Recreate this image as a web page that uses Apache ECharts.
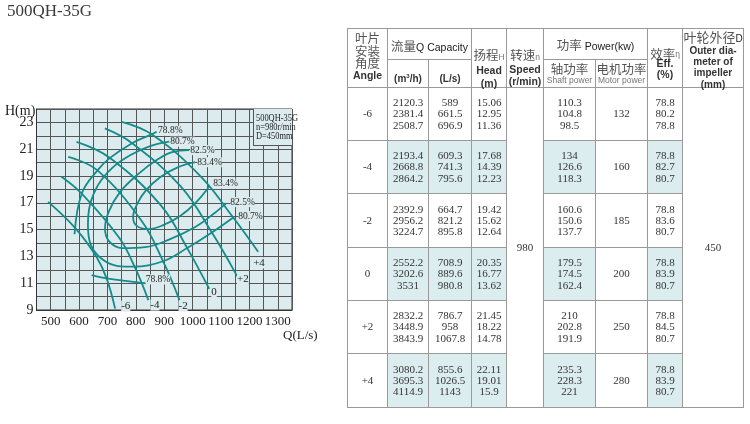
<!DOCTYPE html>
<html>
<head>
<meta charset="utf-8">
<script src="https://cdn.jsdelivr.net/npm/echarts/dist/echarts.min.js"></script>
<style>
html,body{margin:0;padding:0;background:#fff;}
#chart{position:absolute;left:0;top:0;width:750px;height:424px;}
#inset{position:absolute;left:253px;top:109px;width:39px;height:37px;background:#dcecee;border-left:1px solid #555;border-bottom:1px solid #555;box-sizing:border-box;overflow:visible;}
#inset div{position:absolute;left:2px;top:4px;font-family:'Liberation Serif','Times New Roman',serif;font-size:10.5px;line-height:9px;color:#222;white-space:nowrap;transform:scaleX(0.8);transform-origin:0 0;}
#tbl{position:absolute;left:347px;top:28px;}
#tbl table{border-collapse:collapse;table-layout:fixed;width:396px;border:1px solid #555;}
#tbl td{border:1px solid #9a9a9a;padding:0;text-align:center;vertical-align:middle;color:#333;overflow:visible;white-space:nowrap;}
#tbl td.sh{background:#dcedf0;}
#tbl td.hd{vertical-align:top;}
.hc{box-sizing:border-box;overflow:visible;}
.cn{font-family:'Noto Sans CJK SC',sans-serif;font-size:12.5px;color:#555;}
.en{font-family:'Liberation Sans',Arial,sans-serif;font-size:10.5px;color:#222;}
.enb{font-family:'Liberation Sans',Arial,sans-serif;font-size:10px;font-weight:bold;color:#333;}
.sm{font-family:'Liberation Sans',Arial,sans-serif;font-size:8.5px;color:#777;}
.d{font-family:'Liberation Serif','Times New Roman',serif;font-size:11px;line-height:11.3px;color:#333;}
</style>
</head>
<body>
<div id="chart"></div>
<div id="inset"><div>500QH-35G<br>n=980r/min<br>D=450mm</div></div>
<div id="tbl"></div>
<script>
// ---------- chart data ----------
const qTickLabels = [500, 600, 700, 800, 900, 1000, 1100, 1200, 1300];
const hTickLabels = [9, 11, 13, 15, 17, 19, 21, 23];

const bladeNames = ['-6', '-4', '-2', '0', '+2', '+4'];
const bladeM6 = [[491, 17.07], [589, 15.06], [661.5, 12.95], [696.9, 11.36], [727, 9.1]];
const bladeM4 = [[538, 18.94], [609.3, 17.68], [741.3, 14.39], [795.6, 12.23], [844, 9.74]];
const bladeM2 = [[561.6, 20.43], [664.7, 19.42], [821.2, 15.62], [895.8, 12.64], [953.7, 9.74]];
const blade0  = [[591, 21.55], [708.9, 20.35], [889.6, 16.77], [980.8, 13.62], [1058.6, 10.57]];
const bladeP2 = [[691, 22.55], [786.7, 21.45], [958, 18.22], [1067.8, 14.78], [1156.5, 11.53]];
const bladeP4 = [[750, 23.04], [855.6, 22.11], [1026.5, 19.01], [1143, 15.9], [1230.7, 13.34]];

const eff788Upper = [[584, 14.65], [609.3, 17.68], [664.7, 19.42], [708.9, 20.35], [786.7, 21.45], [855.6, 22.11], [873, 22.3]];
const eff788Lower = [[644, 11.6], [696.9, 11.36], [770, 11.15], [838, 10.98]];
const eff807 = [[917.5, 21.56], [850.4, 21.23], [779.6, 20.55], [716, 19.59], [666.5, 18.32], [638.3, 16.83], [631.2, 15.33], [641.8, 13.84], [680.7, 12.8], [737.2, 12.28], [795.6, 12.23], [895.8, 12.64], [980.8, 13.62], [1067.8, 14.78], [1143, 15.9]];
const eff825 = [[988, 20.93], [928, 20.78], [878.5, 20.26], [807.8, 19.14], [744.2, 17.8], [705.4, 16.38], [691.3, 15.11], [705.4, 14.14], [751.3, 13.62], [832.5, 13.69], [920.9, 14.29], [1009.2, 15.19], [1072.8, 16.16], [1118.7, 16.98]];
const eff834 = [[1009.2, 20.03], [949.1, 19.66], [885.5, 18.91], [836.1, 17.94], [804.3, 16.9], [790.2, 15.93], [804.3, 15.26], [843.2, 15.04], [896.2, 15.33], [956.2, 16.01], [1012.7, 17.05], [1058.6, 18.24]];

// ---------- table data ----------
const tableAngles = ['-6', '-4', '-2', '0', '+2', '+4'];
const tableFlowM3h = [['2120.3', '2381.4', '2508.7'], ['2193.4', '2668.8', '2864.2'], ['2392.9', '2956.2', '3224.7'], ['2552.2', '3202.6', '3531'], ['2832.2', '3448.9', '3843.9'], ['3080.2', '3695.3', '4114.9']];
const tableFlowLs = [['589', '661.5', '696.9'], ['609.3', '741.3', '795.6'], ['664.7', '821.2', '895.8'], ['708.9', '889.6', '980.8'], ['786.7', '958', '1067.8'], ['855.6', '1026.5', '1143']];
const tableHead = [['15.06', '12.95', '11.36'], ['17.68', '14.39', '12.23'], ['19.42', '15.62', '12.64'], ['20.35', '16.77', '13.62'], ['21.45', '18.22', '14.78'], ['22.11', '19.01', '15.9']];
const tableShaft = [['110.3', '104.8', '98.5'], ['134', '126.6', '118.3'], ['160.6', '150.6', '137.7'], ['179.5', '174.5', '162.4'], ['210', '202.8', '191.9'], ['235.3', '228.3', '221']];
const tableMotor = ['132', '160', '185', '200', '250', '280'];
const tableEff = [['78.8', '80.2', '78.8'], ['78.8', '82.7', '80.7'], ['78.8', '83.6', '80.7'], ['78.8', '83.9', '80.7'], ['78.8', '84.5', '80.7'], ['78.8', '83.9', '80.7']];
const tableSpeed = '980';
const tableDiameter = '450';

// ---------- styles ----------
const SERIF = "'Liberation Serif','Times New Roman',serif";
const CURVE = '#168a8a';
const BG = '#dcecee';
const bladeCurves = [bladeM6, bladeM4, bladeM2, blade0, bladeP2, bladeP4];
const bladeLabelOffset = [[6, -2.5], [2, 5], [-1, 6], [2, 3], [0, 3], [-5, 11]];

function lbl(text, off, size) {
  return {
    show: true, formatter: text, position: off, align: 'left', verticalAlign: 'middle',
    color: '#222', fontFamily: SERIF, fontSize: size, backgroundColor: BG, padding: [0, 0, 0, 0]
  };
}
function curve(name, pts, startLabel, endLabel) {
  return {
    type: 'line', name: name, silent: true, smooth: 0.4,
    showSymbol: true, symbol: 'circle', symbolSize: 0,
    lineStyle: { color: CURVE, width: 1.8 }, itemStyle: { color: CURVE },
    label: { show: false },
    data: pts.map(function (p, i) {
      let l = null;
      if (i === 0 && startLabel) l = startLabel;
      if (i === pts.length - 1 && endLabel) l = endLabel;
      return l ? { value: p, label: l } : { value: p };
    })
  };
}

const series = [];
bladeCurves.forEach(function (c, i) {
  series.push(curve(bladeNames[i], c, null, lbl(bladeNames[i], bladeLabelOffset[i], 11)));
});
series.push(curve('78.8%', eff788Upper, null, lbl('78.8%', [1.5, -1], 9.5)));
series.push(curve('78.8% low', eff788Lower, null, lbl('78.8%', [-1, -4], 9.5)));
series.push(curve('80.7%', eff807, lbl('80.7%', [1, 0], 9.5), lbl('80.7%', [5, -1.5], 9.5)));
series.push(curve('82.5%', eff825, lbl('82.5%', [1, 0], 9.5), lbl('82.5%', [4, -1], 9.5)));
series.push(curve('83.4%', eff834, lbl('83.4%', [2, 0], 9.5), lbl('83.4%', [4, -2.5], 9.5)));

const chart = echarts.init(document.getElementById('chart'), null, { renderer: 'canvas' });
chart.setOption({
  animation: false,
  backgroundColor: '#fff',
  title: [
    { text: '500QH-35G', left: 7, top: 3, padding: 0, textStyle: { fontFamily: SERIF, fontSize: 17, fontWeight: 'normal', color: '#3a3a3a' } },
    { text: 'H(m)', left: 5, top: 104, padding: 0, textStyle: { fontFamily: SERIF, fontSize: 14, fontWeight: 'normal', color: '#222' } },
    { text: 'Q(L/s)', left: 283, top: 329, padding: 0, textStyle: { fontFamily: SERIF, fontSize: 13, fontWeight: 'normal', color: '#222' } }
  ],
  grid: { left: 36.5, right: 458, top: 109, bottom: 114, show: true, backgroundColor: BG, borderColor: '#333', borderWidth: 1 },
  xAxis: {
    type: 'value', min: 450, max: 1350, interval: 50,
    axisLine: { show: true, lineStyle: { color: '#333', width: 1 } },
    axisTick: { show: false },
    splitLine: { show: true, lineStyle: { color: '#555', width: 1 } },
    axisLabel: {
      margin: 5, fontFamily: SERIF, fontSize: 13, color: '#222',
      formatter: function (v) { return qTickLabels.indexOf(v) >= 0 ? String(v) : ''; }
    }
  },
  yAxis: {
    type: 'value', min: 9, max: 24, interval: 1,
    axisLine: { show: true, lineStyle: { color: '#333', width: 1 } },
    axisTick: { show: false },
    splitLine: { show: true, lineStyle: { color: '#555', width: 1 } },
    axisLabel: {
      margin: 3, fontFamily: SERIF, fontSize: 14, color: '#222',
      formatter: function (v) { return hTickLabels.indexOf(v) >= 0 ? String(v) : ''; }
    }
  },
  series: series
});

// ---------- table ----------
function lines(a) { return a.join('<br>'); }
function hc(h, pt, inner) { return '<div class="hc" style="height:' + h + 'px;padding-top:' + pt + 'px">' + inner + '</div>'; }
let h = '<table><colgroup>';
[40, 41, 43, 35, 37, 52, 52, 35, 61].forEach(function (w) { h += '<col style="width:' + w + 'px">'; });
h += '</colgroup>';
h += '<tr>' +
  '<td rowspan="2" class="hd">' + hc(58, 3, '<div class="cn" style="line-height:12.5px">叶片<br>安装<br>角度</div><div class="enb" style="line-height:10px;font-size:10.5px">Angle</div>') + '</td>' +
  '<td colspan="2" class="hd">' + hc(30, 7, '<span class="cn">流量</span><span class="en">Q Capacity</span>') + '</td>' +
  '<td rowspan="2" class="hd">' + hc(58, 19, '<div style="line-height:13px"><span class="cn">扬程</span><span class="sm">H</span></div><div class="enb" style="line-height:12.5px;font-size:10.5px">Head<br>(m)</div>') + '</td>' +
  '<td rowspan="2" class="hd">' + hc(58, 19, '<div style="line-height:13px"><span class="cn">转速</span><span class="sm">n</span></div><div class="enb" style="line-height:11.5px;font-size:10.5px">Speed<br>(r/min)</div>') + '</td>' +
  '<td colspan="2" class="hd">' + hc(30, 6, '<span class="cn">功率 </span><span class="en">Power(kw)</span>') + '</td>' +
  '<td rowspan="2" class="hd">' + hc(58, 20, '<div style="line-height:10px"><span class="cn">效率</span><span class="sm" style="vertical-align:top">η</span></div><div class="enb" style="line-height:9px;font-size:10.5px">Eff.</div><div class="enb" style="line-height:13px;font-size:10.5px">(%)</div>') + '</td>' +
  '<td rowspan="2" class="hd">' + hc(58, 1, '<div style="line-height:13px"><span class="cn" style="font-size:13px">叶轮外径</span><span class="en" style="font-size:10px">D</span></div><div class="enb" style="line-height:11.2px">Outer dia-<br>meter of<br>impeller<br>(mm)</div>') + '</td>' +
  '</tr>';
h += '<tr>' +
  '<td class="hd">' + hc(27, 8, '<span class="enb">(m<sup style="font-size:6px;line-height:0">3</sup>/h)</span>') + '</td>' +
  '<td class="hd">' + hc(27, 8, '<span class="enb">(L/s)</span>') + '</td>' +
  '<td class="hd">' + hc(27, 2, '<div class="cn" style="line-height:13px">轴功率</div><div class="sm" style="line-height:10px">Shaft power</div>') + '</td>' +
  '<td class="hd">' + hc(27, 2, '<div class="cn" style="line-height:13px">电机功率</div><div class="sm" style="line-height:10px">Motor power</div>') + '</td>' +
  '</tr>';
const rowH = [53, 53, 54, 53, 53, 54];
for (let i = 0; i < 6; i++) {
  const sh = (i % 2 === 1) ? ' sh' : '';
  h += '<tr style="height:' + rowH[i] + 'px">';
  h += '<td class="d">' + tableAngles[i] + '</td>';
  h += '<td class="d' + sh + '">' + lines(tableFlowM3h[i]) + '</td>';
  h += '<td class="d' + sh + '">' + lines(tableFlowLs[i]) + '</td>';
  h += '<td class="d' + sh + '">' + lines(tableHead[i]) + '</td>';
  if (i === 0) h += '<td class="d" rowspan="6">' + tableSpeed + '</td>';
  h += '<td class="d' + sh + '">' + lines(tableShaft[i]) + '</td>';
  h += '<td class="d">' + tableMotor[i] + '</td>';
  h += '<td class="d' + sh + '">' + lines(tableEff[i]) + '</td>';
  if (i === 0) h += '<td class="d" rowspan="6">' + tableDiameter + '</td>';
  h += '</tr>';
}
h += '</table>';
document.getElementById('tbl').innerHTML = h;
</script>
</body>
</html>
